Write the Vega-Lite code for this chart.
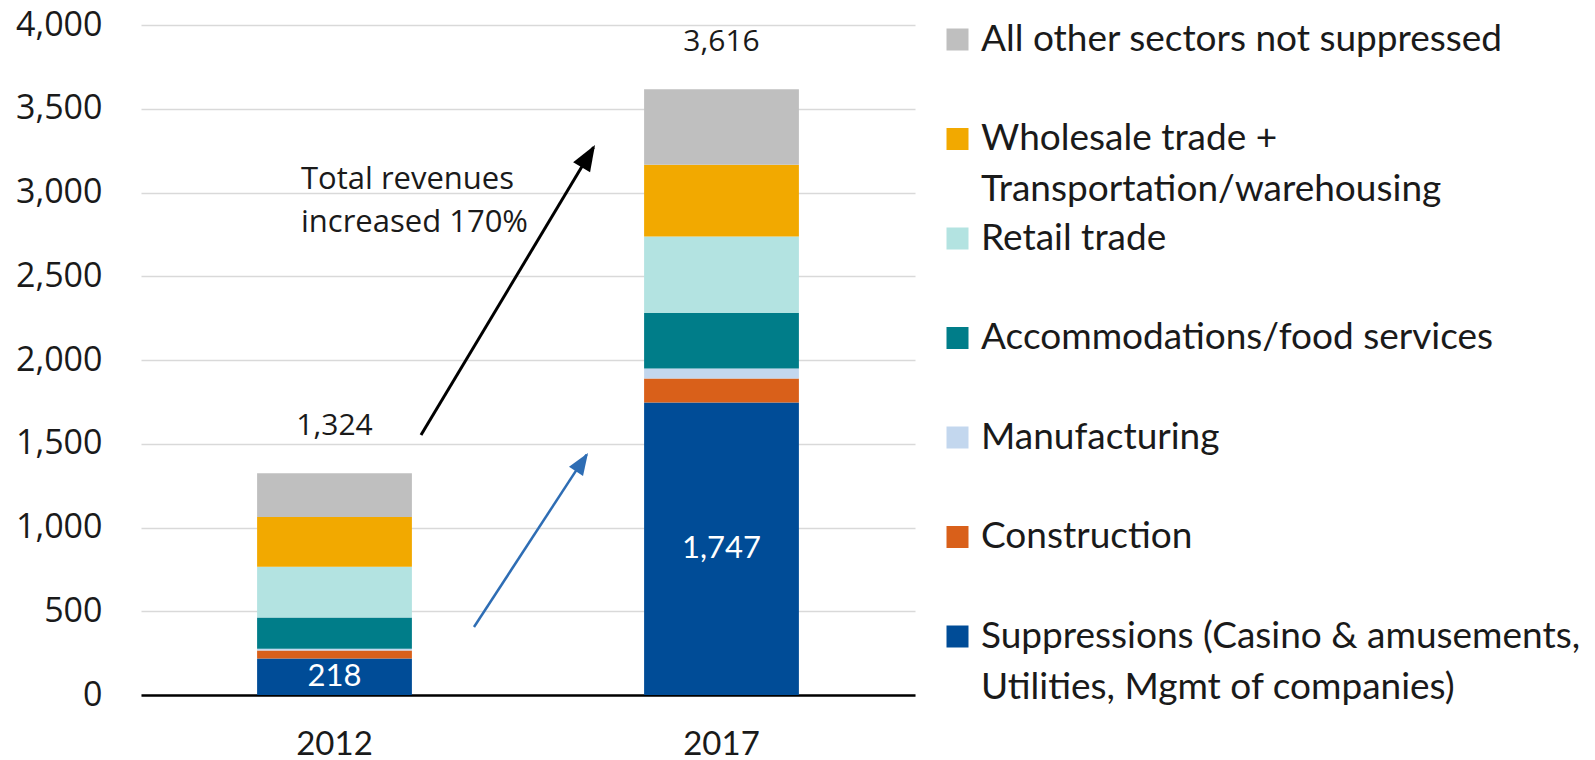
{
  "$schema": "https://vega.github.io/schema/vega-lite/v6.json",
  "width": 774,
  "height": 670,
  "autosize": {"type": "none"},
  "padding": {"left": 141, "top": 25, "right": 680, "bottom": 65},
  "background": "white",
  "config": {
    "view": {"stroke": null},
    "style": {"guide-label": {"lineHeight": 51}}
  },
  "data": {
    "values": [
      {"year": "2012", "sector": "Suppressions (Casino & amusements, Utilities, Mgmt of companies)", "value": 218},
      {"year": "2012", "sector": "Construction", "value": 47},
      {"year": "2012", "sector": "Manufacturing", "value": 11},
      {"year": "2012", "sector": "Accommodations/food services", "value": 186},
      {"year": "2012", "sector": "Retail trade", "value": 303},
      {"year": "2012", "sector": "Wholesale trade + Transportation/warehousing", "value": 298},
      {"year": "2012", "sector": "All other sectors not suppressed", "value": 261},
      {"year": "2017", "sector": "Suppressions (Casino & amusements, Utilities, Mgmt of companies)", "value": 1747},
      {"year": "2017", "sector": "Construction", "value": 143},
      {"year": "2017", "sector": "Manufacturing", "value": 60},
      {"year": "2017", "sector": "Accommodations/food services", "value": 330},
      {"year": "2017", "sector": "Retail trade", "value": 458},
      {"year": "2017", "sector": "Wholesale trade + Transportation/warehousing", "value": 427},
      {"year": "2017", "sector": "All other sectors not suppressed", "value": 451}
    ]
  },
  "encoding": {
    "x": {
      "field": "year", "type": "nominal",
      "scale": {"paddingInner": 0.6, "paddingOuter": 0.3},
      "axis": {
        "title": null, "labelAngle": 0, "ticks": false,
        "domain": true, "domainColor": "#000000", "domainWidth": 2.5,
        "labelFont": "Lato", "labelFontSize": 33, "labelColor": "#1a1a1a",
        "labelPadding": 33, "grid": false
      }
    }
  },
  "layer": [
    {
      "transform": [
        {"calculate": "6 - indexof(['All other sectors not suppressed', 'Wholesale trade + Transportation/warehousing', 'Retail trade', 'Accommodations/food services', 'Manufacturing', 'Construction', 'Suppressions (Casino & amusements, Utilities, Mgmt of companies)'], datum.sector)", "as": "stackOrder"}
      ],
      "mark": {"type": "bar"},
      "encoding": {
        "y": {
          "field": "value", "type": "quantitative", "stack": "zero",
          "scale": {"domain": [0, 4000], "nice": false},
          "axis": {
            "title": null, "values": [0, 500, 1000, 1500, 2000, 2500, 3000, 3500, 4000],
            "format": ",.0f", "ticks": false, "domain": false,
            "gridColor": "#D9D9D9", "gridWidth": 1.5,
            "labelFont": "Open Sans", "labelFontSize": 34, "labelColor": "#1a1a1a",
            "labelPadding": 39
          }
        },
        "color": {
          "field": "sector", "type": "nominal",
          "scale": {
            "domain": ["All other sectors not suppressed", "Wholesale trade + Transportation/warehousing", "Retail trade", "Accommodations/food services", "Manufacturing", "Construction", "Suppressions (Casino & amusements, Utilities, Mgmt of companies)"],
            "range": ["#BFBFBF", "#F2A900", "#B3E3E1", "#007D89", "#C3D7EE", "#D9601A", "#004C97"]
          },
          "legend": {
            "title": null, "orient": "none", "legendX": 798, "legendY": -4,
            "symbolType": "square", "symbolSize": 484, "symbolStrokeWidth": 0,
            "labelFont": "Lato", "labelFontSize": 37, "labelColor": "#1a1a1a",
            "labelLimit": 1000, "labelOffset": 5, "rowPadding": 10.5,
            "gridAlign": "all",
            "labelBaseline": "middle",
            "labelExpr": "datum.label == 'Wholesale trade + Transportation/warehousing' ? ['Wholesale trade +', 'Transportation/warehousing'] : (indexof(datum.label, 'Suppressions') == 0 ? ['Suppressions (Casino & amusements,', 'Utilities, Mgmt of companies)'] : datum.label)"
          }
        },
        "order": {"field": "stackOrder", "type": "quantitative", "sort": "ascending"}
      }
    },
    {
      "transform": [
        {"filter": "indexof(datum.sector, 'Suppressions') == 0"}
      ],
      "mark": {"type": "text", "font": "Lato", "fontSize": 31, "color": "#FFFFFF", "baseline": "middle", "align": "center"},
      "encoding": {
        "y": {"field": "value", "type": "quantitative", "stack": "zero", "bandPosition": 0.5},
        "text": {"field": "value", "type": "quantitative", "format": ","}
      }
    },
    {
      "transform": [
        {"aggregate": [{"op": "sum", "field": "value", "as": "total"}], "groupby": ["year"]}
      ],
      "mark": {"type": "text", "font": "Open Sans", "fontSize": 30, "color": "#1a1a1a", "baseline": "middle", "align": "center", "dy": -47},
      "encoding": {
        "y": {"field": "total", "type": "quantitative"},
        "text": {"field": "total", "type": "quantitative", "format": ","}
      }
    },
    {
      "data": {"values": [{"note": "Total revenues increased 170%"}]},
      "mark": {"type": "text", "font": "Open Sans", "fontSize": 31, "color": "#1a1a1a", "align": "left", "baseline": "middle", "lineHeight": 43, "xOffset": -33.5, "text": ["Total revenues", "increased 170%"]},
      "encoding": {
        "x": {"datum": "2012"},
        "y": {"datum": 3075}
      }
    },
    {
      "data": {"values": [{"arrow": "total"}]},
      "mark": {"type": "rule", "color": "#000000", "strokeWidth": 3, "xOffset": 86.5, "x2Offset": -128},
      "encoding": {
        "x": {"datum": "2012"},
        "x2": {"datum": "2017"},
        "y": {"datum": 1552},
        "y2": {"datum": 3270}
      }
    },
    {
      "data": {"values": [{"arrow": "total"}]},
      "mark": {"type": "point", "filled": true, "color": "#000000", "opacity": 1, "shape": "M0,0L-0.38,1L0.38,1Z", "size": 2704, "angle": 31, "xOffset": -126.5},
      "encoding": {
        "x": {"datum": "2017"},
        "y": {"datum": 3284}
      }
    },
    {
      "data": {"values": [{"arrow": "suppressions"}]},
      "mark": {"type": "rule", "color": "#2E6DB4", "strokeWidth": 2.5, "xOffset": 139.5, "x2Offset": -135},
      "encoding": {
        "x": {"datum": "2012"},
        "x2": {"datum": "2017"},
        "y": {"datum": 406},
        "y2": {"datum": 1435}
      }
    },
    {
      "data": {"values": [{"arrow": "suppressions"}]},
      "mark": {"type": "point", "filled": true, "color": "#2E6DB4", "opacity": 1, "shape": "M0,0L-0.38,1L0.38,1Z", "size": 1936, "angle": 33, "xOffset": -133.5},
      "encoding": {
        "x": {"datum": "2017"},
        "y": {"datum": 1445}
      }
    }
  ]
}
